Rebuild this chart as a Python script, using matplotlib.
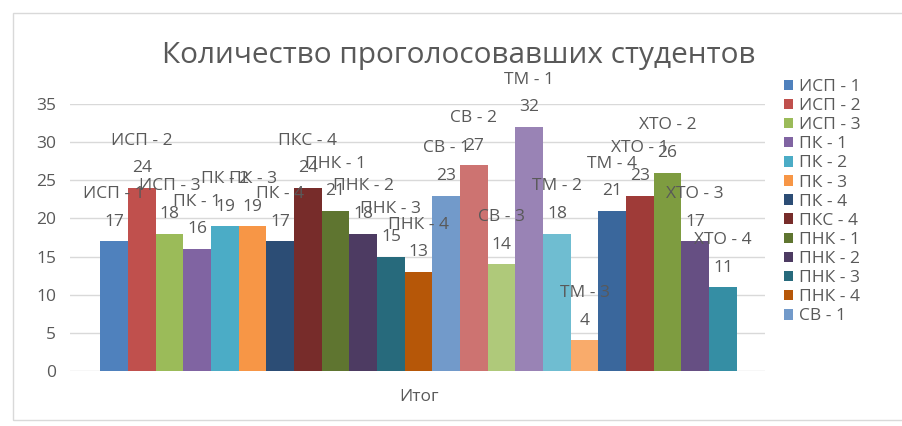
import matplotlib
matplotlib.use("Agg")
import matplotlib.pyplot as plt
from matplotlib.patches import Patch, Rectangle

# Данные
groups = ["ИСП - 1", "ИСП - 2", "ИСП - 3", "ПК - 1", "ПК - 2", "ПК - 3", "ПК - 4",
          "ПКС - 4", "ПНК - 1", "ПНК - 2", "ПНК - 3", "ПНК - 4", "СВ - 1", "СВ - 2",
          "СВ - 3", "ТМ - 1", "ТМ - 2", "ТМ - 3", "ТМ - 4", "ХТО - 1", "ХТО - 2",
          "ХТО - 3", "ХТО - 4"]
votes = [17, 24, 18, 16, 19, 19, 17, 24, 21, 18, 15, 13, 23, 27, 14, 32, 18, 4,
         21, 23, 26, 17, 11]
category = "Итог"
n_legend = 13  # в легенде видны только первые 13 групп

colors = ["#4F81BD", "#C0504D", "#9BBB59", "#8064A2", "#4BACC6", "#F79646",
          "#2C4D75", "#772C2A", "#5F7530", "#4D3B62", "#276A7C", "#B65708",
          "#729ACA", "#CD7371", "#AFC97A", "#9983B5", "#6FBDD1", "#F9AB6B",
          "#3A679C", "#9F3B38", "#7E9C40", "#664F83", "#358EA4"]

plt.rcParams['font.family'] = ['Open Sans', 'DejaVu Sans']
grey = "#595959"
fs = 12.5

fig = plt.figure(figsize=(9.03, 4.26), dpi=100)
ax = fig.add_axes([70 / 903, 1 - 371 / 426, 695 / 903, 267 / 426])

x = list(range(len(votes)))
ax.bar(x, votes, width=1.0, color=colors, zorder=3)

# подписи: название группы и значение над столбцом
for xi, v, name in zip(x, votes, groups):
    ax.annotate(str(v), (xi, v), xytext=(0, 14), textcoords="offset points",
                ha="center", va="center", fontsize=fs, color=grey,
                annotation_clip=False, zorder=4)
    ax.annotate(name, (xi, v), xytext=(0, 34), textcoords="offset points",
                ha="center", va="center", fontsize=fs, color=grey,
                annotation_clip=False, zorder=4)

ax.set_ylim(0, 35)
ax.set_xlim(-0.5 - 1.1, len(votes) - 0.5 + 1.02)
ax.set_yticks(range(0, 36, 5))
ax.set_xticks([(len(votes) - 1) / 2])
ax.set_xticklabels([category])
ax.tick_params(axis="both", length=0, colors=grey, labelsize=fs)
ax.tick_params(axis="x", pad=13)
ax.tick_params(axis="y", pad=10)
ax.grid(axis="y", color="#D9D9D9", linewidth=1, zorder=0)
for s in ax.spines.values():
    s.set_visible(False)

fig.text(459 / 903, 1 - 55 / 426, "Количество проголосовавших студентов",
         ha="center", va="center", fontsize=21.4, color=grey)

handles = [Patch(facecolor=colors[i], label=groups[i]) for i in range(n_legend)]
leg = fig.legend(handles=handles, loc="upper left",
                 bbox_to_anchor=(777 / 903, 1 - 72 / 426), frameon=False,
                 fontsize=fs, handlelength=0.55, handleheight=0.55,
                 handletextpad=0.3, labelspacing=0.18, borderaxespad=0)
for t in leg.get_texts():
    t.set_color(grey)

# рамка диаграммы
fig.patches.append(Rectangle((13 / 903, 1 - 420 / 426), 1.0, 407 / 426,
                             transform=fig.transFigure, fill=False,
                             edgecolor="#D9D9D9", linewidth=1))

fig.savefig("out.png", dpi=100)
